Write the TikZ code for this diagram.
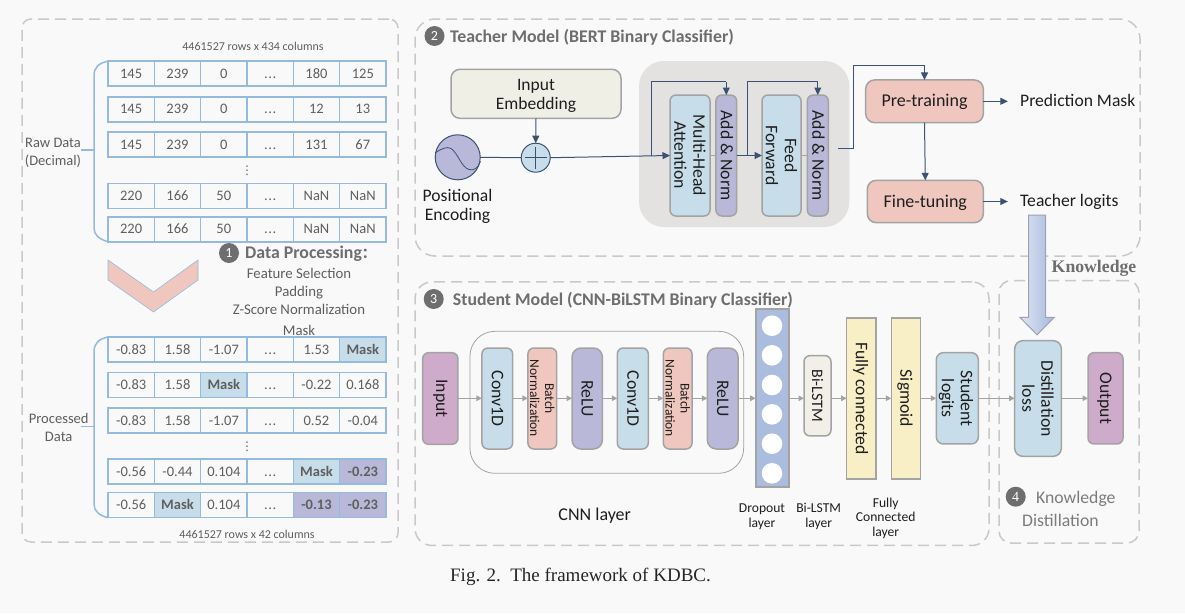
\documentclass[tikz,border=0pt]{standalone}
\usepackage{fontspec}
\setmainfont{Carlito}
\newfontfamily\cjkfont{Noto Sans CJK SC}
\newfontfamily\serifont{Liberation Serif}
\newfontfamily\symfont{DejaVu Sans}
\usetikzlibrary{arrows.meta,calc}
\definecolor{bgc}{HTML}{F9F9F9}
\definecolor{dashc}{HTML}{C9C9C9}
\definecolor{cellb}{HTML}{94BBDF}
\definecolor{txtg}{HTML}{5F5F5F}
\definecolor{ttlg}{HTML}{6E6E6E}
\definecolor{bluef}{HTML}{C7DEEA}
\definecolor{purf}{HTML}{B9B8D8}
\definecolor{pinkf}{HTML}{EFC7BE}
\definecolor{magf}{HTML}{CEAACB}
\definecolor{yelf}{HTML}{F9EFC7}
\definecolor{creamf}{HTML}{EFEFE6}
\definecolor{lstmf}{HTML}{F2EFE8}
\definecolor{dropf}{HTML}{ABBDDF}
\definecolor{encf}{HTML}{E3E2E0}
\definecolor{darkl}{HTML}{3B5275}
\definecolor{grayb}{HTML}{A3A3A3}
\definecolor{txtd}{HTML}{1E1E1E}
\definecolor{shadel}{HTML}{E0E6F3}
\definecolor{shader}{HTML}{A6B8DC}
\definecolor{shadeb}{HTML}{9AA3B5}
\newcommand{\fs}[2]{\fontsize{#1}{#2}\selectfont}
\newcommand{\dd}{.\kern.6pt.\kern.6pt.}
\newcommand{\dn}{\rule{0pt}{15pt}}
\tikzset{
  panel/.style={draw=dashc,line width=1.5pt,dash pattern=on 11pt off 6pt,inner sep=0pt,outer sep=0pt},
  cell/.style={draw=cellb,line width=1.5pt,minimum width=46.33pt,minimum height=25pt,inner sep=0pt,outer sep=0pt,text=txtg,font=\fs{14.5}{16},text height=9pt,text depth=0pt},
  maskcell/.style={cell,fill=bluef,font=\fs{14.5}{16}\bfseries},
  purcell/.style={cell,fill=purf,font=\fs{14.5}{16}\bfseries},
  bracket/.style={draw=cellb,line width=1.5pt},
  gtext/.style={text=txtg,inner sep=0pt,align=center},
  numdot/.style={circle,fill=ttlg,text=white,minimum size=20pt,inner sep=0pt,font=\fs{14}{16}},
  title/.style={text=ttlg,anchor=west,inner sep=0pt,font=\fs{17.8}{20}\bfseries},
  dtext/.style={text=txtd,inner sep=0pt,align=center,font=\fs{17.6}{19}},
  vbox/.style={draw=grayb,line width=1.5pt,rotate=-90,inner sep=0pt,outer sep=0pt,rounded corners=6pt,text=txtd,align=center,font=\fs{17.7}{19}},
  rbox/.style={draw=grayb,line width=1.5pt,inner sep=0pt,outer sep=0pt,rounded corners=9pt,text=txtd,align=center,font=\fs{18}{19}},
  oneline/.style={text height=11pt,text depth=0pt},
  darrow/.style={draw=darkl,line width=1pt,-{Triangle[length=7.5pt,width=7pt]}},
  dline/.style={draw=darkl,line width=1pt},
  garrow/.style={draw=grayb,line width=1.2pt,-{Triangle[length=5.5pt,width=5.5pt]}},
  smalllab/.style={text=txtd,inner sep=0pt,align=center,font=\fs{13.6}{14.5}},
}
\newcommand{\datarow}[3]{\foreach \val/\sty [count=\i] in {#3} \node[\sty] (#1c\i) at ({108+46.33*(\i-0.5)},#2) {\val};}
\begin{document}
\begin{tikzpicture}[x=1pt,y=-1pt]
\useasboundingbox (0,0) rectangle (1185,613);
\fill[bgc] (0,0) rectangle (1185,613);
% dashed panels
\node[panel,rounded corners=9pt,minimum width=376pt,minimum height=523pt] (prepbox) at (210,280.5) {};
\node[panel,rounded corners=20pt,minimum width=725pt,minimum height=237pt] (teacherbox) at (777.5,137.5) {};
\node[panel,rounded corners=17pt,minimum width=574pt,minimum height=263.5pt] (studentbox) at (702,413.7) {};
\node[panel,rounded corners=12pt,minimum width=140pt,minimum height=262.5pt] (kdbox) at (1069,411.8) {};
% raw table
\node[gtext,font=\fs{12}{13}] (rawsize) at (253,46) {4461527 rows x 434 columns};
\datarow{a}{73.7}{145/cell,239/cell,0/cell,\dd/cell,180/cell,125/cell}
\datarow{b}{109.3}{145/cell,239/cell,0/cell,\dd/cell,12/cell,13/cell}
\datarow{c}{144.7}{145/cell,239/cell,0/cell,\dd/cell,131/cell,67/cell}
\datarow{d}{196}{220/cell,166/cell,50/cell,\dd/cell,NaN/cell,NaN/cell}
\datarow{e}{229.3}{220/cell,166/cell,50/cell,\dd/cell,NaN/cell,NaN/cell}
\node[gtext,font=\symfont\fs{12}{14}] (rawdots) at (247,170.5) {⋮};
\coordinate (rawstem) at (81,150);
\coordinate (rawbar) at (94,150);
\draw[bracket] (ac1.north west) .. controls (99,63) and (94,67) .. (94,76) -- (94,228) .. controls (94,235) and (99,239) .. (ec1.south west);
\draw[bracket] (rawstem) -- (rawbar);
\node[gtext,font=\fs{14.5}{18}] (rawlab) at (53,152.5) {Raw Data\\(Decimal)};
% chevron
\draw[draw=cellb,line width=.6pt,fill=pinkf] (108,260) -- (153.5,292) -- (198,260) -- (198,280) -- (153.5,312) -- (108,280) -- cycle;
% data processing
\node[numdot] (n1) at (229,253) {1};
\node[title] (dptitle) at (245,254) {Data Processing{\cjkfont\bfseries\fs{14}{16}：}};
\node[gtext,font=\fs{14.8}{18}] (steps1) at (299,273.5) {Feature Selection};
\node[gtext,font=\fs{14.8}{18}] (steps2) at (299,292.5) {Padding};
\node[gtext,font=\fs{14.8}{18}] (steps3) at (299,309.5) {Z-Score Normalization};
\node[gtext,font=\fs{14.8}{18}] (steps4) at (299,330) {Mask};
% processed table
\datarow{f}{349.5}{-0.83/cell,1.58/cell,-1.07/cell,\dd/cell,1.53/cell,Mask/maskcell}
\datarow{g}{385.2}{-0.83/cell,1.58/cell,Mask/maskcell,\dd/cell,-0.22/cell,0.168/cell}
\datarow{h}{420.5}{-0.83/cell,1.58/cell,-1.07/cell,\dd/cell,0.52/cell,-0.04/cell}
\datarow{j}{471.5}{-0.56/cell,-0.44/cell,0.104/cell,\dd/cell,Mask/maskcell,-0.23/purcell}
\datarow{k}{505.2}{-0.56/cell,Mask/maskcell,0.104/cell,\dd/cell,-0.13/purcell,-0.23/purcell}
\node[gtext,font=\symfont\fs{12}{14}] (procdots) at (247,446.5) {⋮};
\coordinate (procstem) at (81,426.7);
\coordinate (procbar) at (94,426.7);
\draw[bracket] (fc1.north west) .. controls (99,339) and (94,343) .. (94,352) -- (94,504) .. controls (94,511) and (99,515.5) .. (kc1.south west);
\draw[bracket] (procstem) -- (procbar);
\node[gtext,font=\fs{14.6}{18}] (proclab) at (58.7,427) {Processed\\Data};
\node[gtext,font=\fs{12}{13}] (procsize) at (247,534) {4461527 rows x 42 columns};
% teacher
\node[numdot] (n2) at (434.5,36) {2};
\node[title] (ttitle) at (450,37) {Teacher Model (BERT Binary Classifier)};
\node[rbox,fill=creamf,minimum width=170pt,minimum height=49pt,font=\fs{17.5}{19}] (embed) at (536,93.8) {\dn Input\\Embedding};
\node[circle,draw=darkl,line width=1pt,fill=purf,minimum size=45pt,inner sep=0pt,outer sep=0pt] (pos) at (457.7,157.3) {};
\draw[darkl,line width=.8pt] (435,153) .. controls (441,149) and (447,146) .. (451,148.5) .. controls (458,153) and (461,167) .. (469,169.5) .. controls (474,171) and (478,168) .. (480.5,161.5);
\node[circle,draw=darkl,line width=1pt,fill=bluef,minimum size=29pt,inner sep=0pt,outer sep=0pt] (plus) at (535.7,157.7) {};
\draw[darkl,line width=.7pt] (plus.center) ++(-11,0) -- ++(22,0);
\draw[darkl,line width=.7pt] (plus.center) ++(0,-11) -- ++(0,22);
\node[dtext] (poslab) at (457.5,206) {Positional\\Encoding};
\node[fill=encf,rounded corners=25pt,minimum width=210.3pt,minimum height=166pt,inner sep=0pt] (encpanel) at (744.2,144) {};
\node[vbox,fill=bluef,minimum width=121pt,minimum height=40pt] (mha) at (690,155.5) {Multi-Head\\Attention};
\node[vbox,oneline,fill=purf,minimum width=121pt,minimum height=20.7pt] (an1) at (726.3,155.5) {Add \& Norm};
\node[vbox,fill=bluef,minimum width=121pt,minimum height=39pt] (ff) at (781.5,155.5) {Feed\\Forward};
\node[vbox,oneline,fill=purf,minimum width=121pt,minimum height=21pt] (an2) at (817.8,155.5) {Add \& Norm};
\node[rbox,oneline,fill=pinkf,minimum width=117.6pt,minimum height=42.7pt] (pre) at (924.5,101.3) {Pre-training};
\node[rbox,oneline,fill=pinkf,minimum width=116pt,minimum height=42.4pt] (fine) at (925.3,201.5) {Fine-tuning};
\node[dtext,anchor=west] (predlab) at (1020,100.9) {Prediction Mask};
\node[dtext,anchor=west] (logitlab) at (1020,202) {Teacher logits};
\coordinate (b1) at (651.7,155.5);
\coordinate (t1) at (726.3,81.7);
\coordinate (b2) at (747.7,155.5);
\coordinate (t2) at (817.8,81.7);
\coordinate (out1) at (838,148.3);
\coordinate (out2) at (853.3,65);
\draw[dline] (pos.east) -- (plus.west);
\draw[darrow] (embed.south) -- (plus.north);
\draw[darrow] (plus.east) -- (mha.south);
\draw[dline] (b1) |- (t1);
\draw[darrow] (t1) -- (an1.west);
\draw[draw=grayb,line width=.8pt] (mha.north) -- (an1.south);
\draw[darrow] (an1.north) -- (ff.south);
\draw[dline] (b2) |- (t2);
\draw[darrow] (t2) -- (an2.west);
\draw[draw=grayb,line width=.8pt] (ff.north) -- (an2.south);
\draw[darrow] (out1) -| (out2) -| (pre.north);
\draw[darrow] (pre.south) -- (fine.north);
\draw[darrow] (pre.east) -- ++(24.5,0);
\draw[darrow] (fine.east) -- ++(24.5,0);
% knowledge arrow
\shadedraw[left color=shadel,right color=shader,draw=shadeb,line width=1pt] (1028.5,215) -- (1045.7,215) -- (1045.7,317.4) -- (1054.3,317.4) -- (1037,334.8) -- (1020,317.4) -- (1028.5,317.4) -- cycle;
\node[text=ttlg,inner sep=0pt,font=\serifont\bfseries\fs{17.7}{18}] (know) at (1094,268.5) {Knowledge};
% student
\node[numdot] (n3) at (433.7,299) {3};
\node[title] (stitle) at (452.7,300) {Student Model (CNN-BiLSTM Binary Classifier)};
\node[vbox,fill=magf,minimum width=91.6pt,minimum height=35.3pt] (input) at (440.3,398.5) {Input};
\node[draw=grayb,line width=.8pt,rounded corners=25pt,minimum width=273.7pt,minimum height=142pt,inner sep=0pt] (cnn) at (606.8,402.3) {};
\node[vbox,oneline,fill=bluef,minimum width=101pt,minimum height=30.7pt] (conva) at (497.3,398.5) {Conv1D};
\node[vbox,fill=pinkf,minimum width=101pt,minimum height=28.7pt,font=\fs{13.5}{15}] (bna) at (542.3,398.5) {Batch\\Normalization};
\node[vbox,oneline,fill=purf,minimum width=101pt,minimum height=30.3pt,rounded corners=9pt] (rla) at (587.2,398.5) {ReLU};
\node[vbox,oneline,fill=bluef,minimum width=101pt,minimum height=31pt] (convb) at (632.8,398.5) {Conv1D};
\node[vbox,fill=pinkf,minimum width=101pt,minimum height=28.7pt,font=\fs{13.5}{15}] (bnb) at (677.7,398.5) {Batch\\Normalization};
\node[vbox,oneline,fill=purf,minimum width=101pt,minimum height=30.7pt,rounded corners=9pt] (rlb) at (722.7,398.5) {ReLU};
\node[draw=grayb,line width=2pt,fill=dropf,minimum width=33pt,minimum height=178pt,inner sep=0pt,outer sep=0pt] (drop) at (772.2,398.3) {};
\foreach \yy [count=\i] in {325.7,355.3,385,414.3,443.7,473.3}
  \node[circle,fill=white,minimum size=20.6pt,inner sep=0pt] (dot\i) at (772,\yy) {};
\node[vbox,oneline,fill=lstmf,minimum width=80.3pt,minimum height=27pt,font=\fs{16}{17}] (lstm) at (817.5,395.8) {Bi-LSTM};
\node[vbox,oneline,rounded corners=0pt,fill=yelf,minimum width=161pt,minimum height=29.3pt] (fc) at (861.3,398.5) {Fully connected};
\node[vbox,oneline,rounded corners=0pt,fill=yelf,minimum width=161pt,minimum height=29pt] (sig) at (905.8,398.5) {Sigmoid};
\node[vbox,fill=bluef,minimum width=91.3pt,minimum height=42pt,rounded corners=7pt] (slog) at (957.3,398.3) {\dn Student\\logits};
\node[vbox,fill=bluef,minimum width=115.6pt,minimum height=46.6pt,rounded corners=8pt] (dist) at (1038,398.5) {Distillation\\loss};
\node[vbox,oneline,fill=magf,minimum width=91.3pt,minimum height=35pt] (output) at (1105.5,398.3) {Output};
\coordinate (rowline) at (0,398.3);
\foreach \aa/\bb in {input/conva,conva/bna,bna/rla,rla/convb,convb/bnb,bnb/rlb,lstm/fc,fc/sig,sig/slog,slog/dist,dist/output}
  \draw[garrow] (\aa.north |- rowline) -- (\bb.south |- rowline);
\draw[garrow] (rlb.north |- rowline) -- (drop.west |- rowline);
\draw[garrow] (drop.east |- rowline) -- (lstm.south |- rowline);
\node[dtext,font=\fs{18}{19}] (cnnlab) at (594.7,516) {CNN layer};
\node[smalllab] (droplab) at (762,516.5) {Dropout\\layer};
\node[smalllab] (lstmlab) at (818.7,516.5) {Bi-LSTM\\layer};
\node[smalllab] (fclab) at (885.7,518) {Fully\\Connected\\layer};
\node[numdot,font=\serifont\fs{14}{16}] (n4) at (1015.7,496.7) {4};
\node[text=ttlg!90,inner sep=0pt,anchor=west,font=\fs{17.7}{20}] (kd1) at (1036,498.5) {Knowledge};
\node[text=ttlg!90,inner sep=0pt,anchor=west,font=\fs{17.7}{20}] (kd2) at (1022,520) {Distillation};
\node[text=black!85,inner sep=0pt,font=\serifont\fs{19}{20}] (caption) at (580.5,576.5) {Fig. 2.\ \ The framework of KDBC.};
\end{tikzpicture}
\end{document}
